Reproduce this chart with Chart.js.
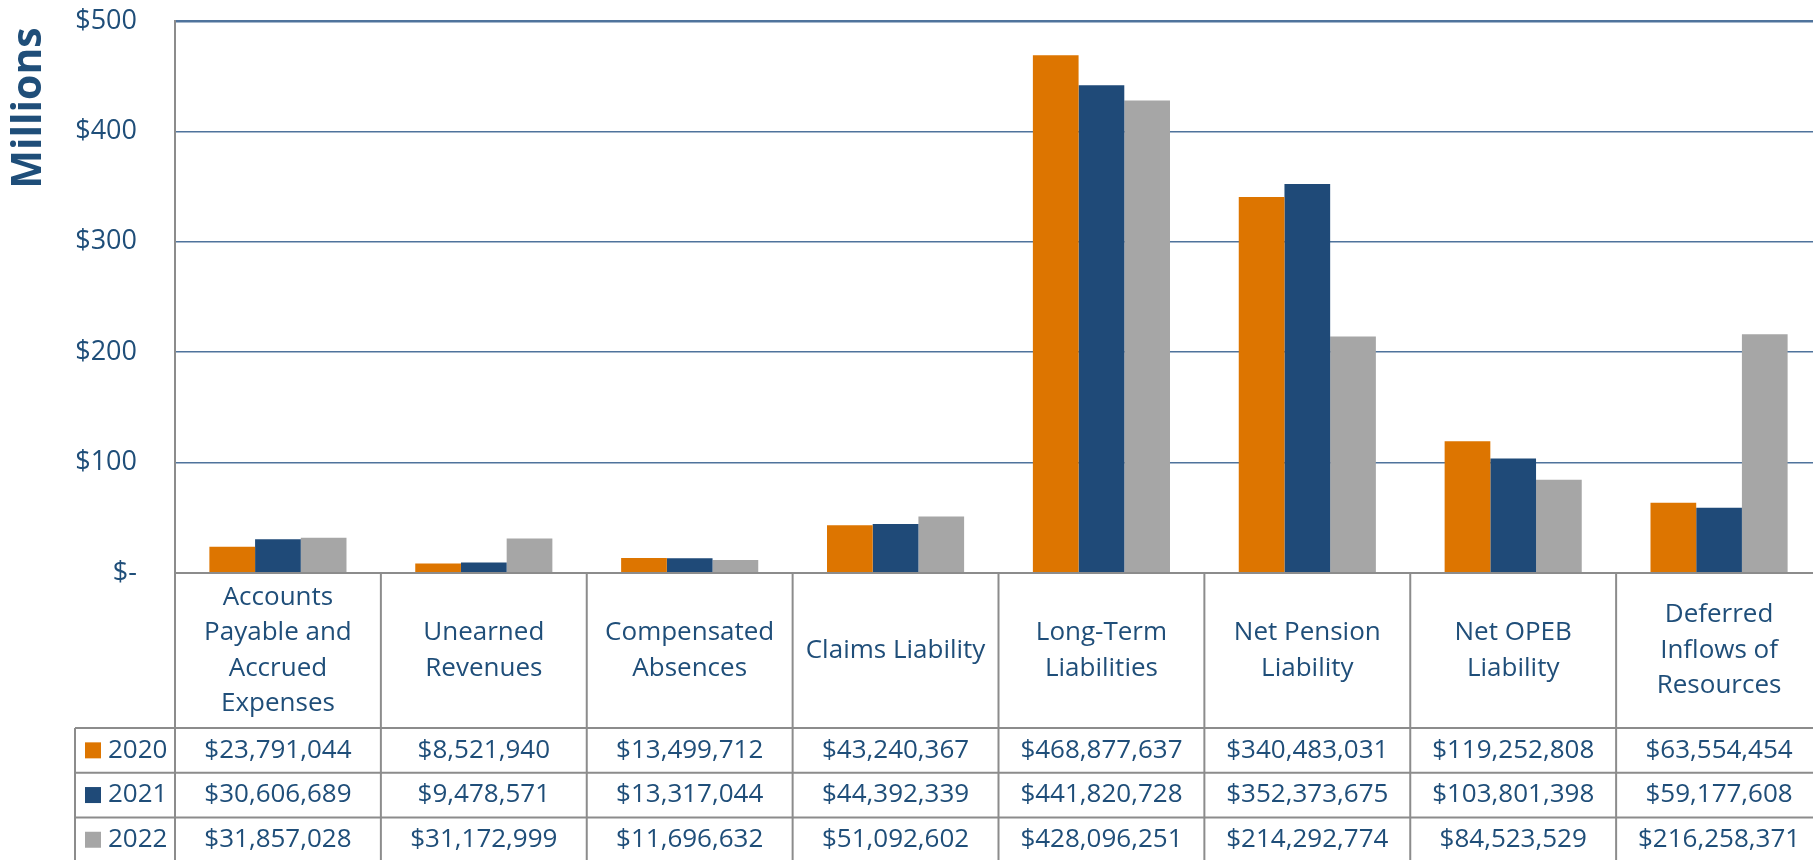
<!DOCTYPE html>
<html>
<head>
<meta charset="utf-8">
<script src="https://cdn.jsdelivr.net/npm/chart.js@4.4.0/dist/chart.umd.min.js"></script>
<style>
  html, body { margin: 0; padding: 0; background: #fff; overflow: hidden; }
  #wrap { width: 1822px; height: 860px; }
</style>
</head>
<body>
<div id="wrap"><canvas id="chart"></canvas></div>
<script>
// Category labels (as shown in the table header)
const categories = [
  ['Accounts', 'Payable and', 'Accrued', 'Expenses'],
  ['Unearned', 'Revenues'],
  ['Compensated', 'Absences'],
  ['Claims Liability'],
  ['Long-Term', 'Liabilities'],
  ['Net Pension', 'Liability'],
  ['Net OPEB', 'Liability'],
  ['Deferred', 'Inflows of', 'Resources']
];
const years = ['2020', '2021', '2022'];
const values2020 = [23791044, 8521940, 13499712, 43240367, 468877637, 340483031, 119252808, 63554454];
const values2021 = [30606689, 9478571, 13317044, 44392339, 441820728, 352373675, 103801398, 59177608];
const values2022 = [31857028, 31172999, 11696632, 51092602, 428096251, 214292774, 84523529, 216258371];
const yTickValues = [0, 100, 200, 300, 400, 500]; // millions

const seriesValues = [values2020, values2021, values2022];
const seriesColors = ['#dd7500', '#1f4a78', '#a6a6a6'];
const TEXT = '#1f4e79';
const LINE = '#8c8c8c';
const FONT = '"Open Sans", "Liberation Sans", sans-serif';

const fmt = v => '$' + v.toLocaleString('en-US');

// Draws the data table under the plot and the "Millions" title
const tablePlugin = {
    id: 'dataTable',
    afterDraw(chart) {
        const { ctx, chartArea: a, scales: { x } } = chart;
        const colW = x.getPixelForValue(1) - x.getPixelForValue(0);
        const right = chart.width;
        const legendLeft = 75;
        const headBottom = 728;
        const rowH = 44.7;
        const rows = [headBottom, headBottom + rowH, headBottom + 2 * rowH, headBottom + 3 * rowH];

        ctx.save();
        ctx.strokeStyle = LINE;
        ctx.lineWidth = 2;
        ctx.beginPath();
        // baseline
        ctx.moveTo(a.left, a.bottom);
        ctx.lineTo(right, a.bottom);
        // row lines
        rows.slice(0, 3).forEach(y => {
            ctx.moveTo(legendLeft, y);
            ctx.lineTo(right, y);
        });
        // column lines
        for (let i = 0; i <= categories.length; i++) {
            const cx = x.getPixelForValue(i) - colW / 2;
            ctx.moveTo(cx, a.bottom);
            ctx.lineTo(cx, chart.height);
        }
        ctx.moveTo(legendLeft, headBottom);
        ctx.lineTo(legendLeft, chart.height);
        ctx.stroke();

        ctx.fillStyle = TEXT;
        ctx.textAlign = 'center';
        ctx.textBaseline = 'middle';
        ctx.font = '26px ' + FONT;

        // header labels
        const headMid = (a.bottom + headBottom) / 2;
        const lineH = 35.5;
        categories.forEach((lines, i) => {
            const cx = x.getPixelForValue(i);
            const y0 = headMid - (lines.length - 1) * lineH / 2;
            lines.forEach((t, j) => ctx.fillText(t, cx, y0 + j * lineH));
        });

        // data rows
        seriesValues.forEach((vals, r) => {
            const ym = (rows[r] + rows[r + 1]) / 2;
            vals.forEach((v, i) => ctx.fillText(fmt(v), x.getPixelForValue(i), ym));
            ctx.fillStyle = seriesColors[r];
            ctx.fillRect(85, ym - 8, 16, 16);
            ctx.fillStyle = TEXT;
            ctx.textAlign = 'left';
            ctx.fillText(years[r], 108, ym);
            ctx.textAlign = 'center';
        });

        // axis title
        ctx.translate(29, 108);
        ctx.rotate(-Math.PI / 2);
        ctx.font = 'bold 41px ' + FONT;
        ctx.fillText('Millions', 0, 0);
        ctx.restore();
    }
};

const ctx = document.getElementById('chart').getContext('2d');
new Chart(ctx, {
    type: 'bar',
    data: {
        labels: categories.map(c => c.join(' ')),
        datasets: years.map((y, i) => ({
            label: y,
            data: seriesValues[i].map(v => v / 1e6),
            backgroundColor: seriesColors[i],
            barPercentage: 1,
            categoryPercentage: 0.666
        }))
    },
    options: {
        responsive: true,
        maintainAspectRatio: false,
        animation: false,
        layout: { padding: { top: 21, bottom: 287, left: 0, right: 0 } },
        plugins: { legend: { display: false }, tooltip: { enabled: false } },
        scales: {
            x: { display: false },
            y: {
                min: 0,
                max: 500,
                afterFit(scale) {
                    scale.width = 175;
                    scale.paddingTop = 0;
                    scale.paddingBottom = 0;
                },
                afterBuildTicks(scale) { scale.ticks = yTickValues.map(v => ({ value: v })); },
                border: { color: LINE, width: 2 },
                grid: {
                    drawTicks: false,
                    color: c => c.tick.value === 0 ? 'rgba(0,0,0,0)' : '#4f739c',
                    lineWidth: c => c.tick.value === 500 ? 2.5 : 1.5
                },
                ticks: {
                    padding: 38,
                    color: TEXT,
                    font: { family: FONT, size: 27 },
                    callback: v => v === 0 ? '$-' : '$' + v
                }
            }
        }
    },
    plugins: [tablePlugin]
});
</script>
</body>
</html>
